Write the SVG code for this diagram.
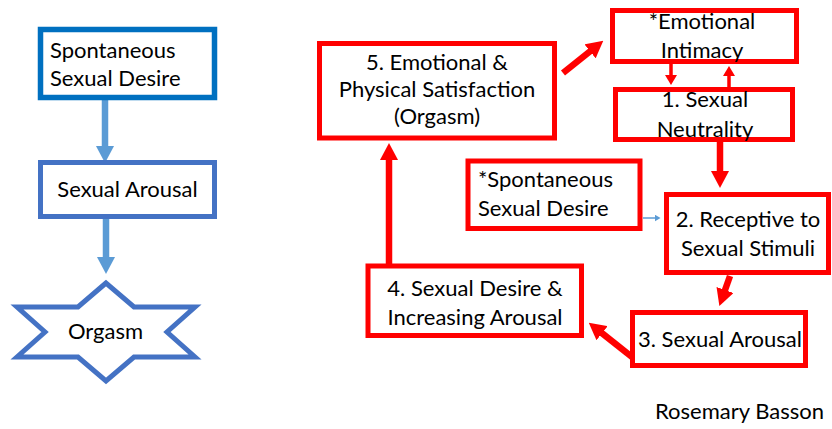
<svg xmlns="http://www.w3.org/2000/svg" width="832" height="429" viewBox="0 0 832 429">
<style>
text{font-family:Lato,"Open Sans","Liberation Sans",sans-serif;font-size:22px;fill:#000}
.c{text-anchor:middle}
.rb{fill:#fff;stroke:#ff0000;stroke-width:5}
.ra{stroke:#ff0000;stroke-width:6.5;fill:none}
.rs{stroke:#ff0000;stroke-width:3.5;fill:none}
.ba{stroke:#5b9bd5;stroke-width:6.5;fill:none}
.bt{stroke:#5b9bd5;stroke-width:1.5;fill:none}
</style>
<defs>
<marker id="mr" viewBox="0 0 17 18" markerUnits="userSpaceOnUse" markerWidth="17" markerHeight="18" refX="1" refY="9" orient="auto"><path d="M0,0L17,9L0,18z" fill="#ff0000"/></marker>
<marker id="mrs" viewBox="0 0 10 12" markerUnits="userSpaceOnUse" markerWidth="10" markerHeight="12" refX="1" refY="6" orient="auto"><path d="M0,0L10,6L0,12z" fill="#ff0000"/></marker>
<marker id="mb" viewBox="0 0 17 18" markerUnits="userSpaceOnUse" markerWidth="17" markerHeight="18" refX="1" refY="9" orient="auto"><path d="M0,0L17,9L0,18z" fill="#5b9bd5"/></marker>
<marker id="mbs" viewBox="0 0 6 7" markerUnits="userSpaceOnUse" markerWidth="6" markerHeight="7" refX="0.5" refY="3.5" orient="auto"><path d="M0,0L6,3.5L0,7z" fill="#5b9bd5"/></marker>
</defs>
<g id="connectors">
<line class="ba" x1="105" y1="100" x2="105" y2="147" marker-end="url(#mb)"/>
<line class="ba" x1="106" y1="219" x2="106" y2="258" marker-end="url(#mb)"/>
<line class="ra" x1="563" y1="73" x2="590.8" y2="50.7" marker-end="url(#mr)"/>
<line class="rs" x1="671" y1="64" x2="671" y2="76" marker-end="url(#mrs)"/>
<line class="rs" x1="729" y1="87" x2="729" y2="75" marker-end="url(#mrs)"/>
<line class="ra" x1="720" y1="142" x2="720" y2="172" marker-end="url(#mr)"/>
<line class="bt" x1="643" y1="218" x2="655" y2="218" marker-end="url(#mbs)"/>
<line class="ra" x1="730" y1="276" x2="724.7" y2="291" marker-end="url(#mr)"/>
<line class="ra" x1="632" y1="357" x2="601.3" y2="332.6" marker-end="url(#mr)"/>
<line class="ra" x1="389" y1="264" x2="389" y2="159" marker-end="url(#mr)"/>
</g>
<g id="spontaneous">
<rect x="40.5" y="29.5" width="174" height="68" fill="#fff" stroke="#0070c0" stroke-width="5.5"/>
<text x="50" y="58">Spontaneous</text>
<text x="50" y="86">Sexual Desire</text>
</g>
<g id="arousal">
<rect x="40.5" y="162.5" width="174" height="54" fill="#fff" stroke="#4472c4" stroke-width="5"/>
<text class="c" x="127.5" y="197">Sexual Arousal</text>
</g>
<g id="orgasm">
<polygon points="106,283 78,307 17,307 45,332 17,357 78,357 106,381 134,357 195,357 167,332 195,307 134,307" fill="#fff" stroke="#4472c4" stroke-width="5"/>
<text class="c" x="105.5" y="339">Orgasm</text>
</g>
<g id="intimacy">
<rect class="rb" x="612.5" y="10.5" width="184" height="51"/>
<text class="c" x="702" y="29">*Emotional</text>
<text class="c" x="702" y="58">Intimacy</text>
</g>
<g id="satisfaction">
<rect class="rb" x="319.5" y="43.5" width="235" height="94.5"/>
<text class="c" x="437" y="70">5. Emotional &amp;</text>
<text class="c" x="437" y="97">Physical Satisfaction</text>
<text class="c" x="437" y="124">(Orgasm)</text>
</g>
<g id="neutrality">
<rect class="rb" x="615.5" y="89.5" width="177" height="50"/>
<text class="c" x="705" y="107">1. Sexual</text>
<text class="c" x="705" y="137">Neutrality</text>
</g>
<g id="spont-desire">
<rect class="rb" x="468" y="161" width="172" height="67.5"/>
<text x="478" y="187">*Spontaneous</text>
<text x="478" y="216">Sexual Desire</text>
</g>
<g id="receptive">
<rect class="rb" x="666.5" y="194.5" width="162" height="78"/>
<text class="c" x="748" y="227">2. Receptive to</text>
<text class="c" x="748" y="256">Sexual Stimuli</text>
</g>
<g id="sexual-arousal">
<rect class="rb" x="632.5" y="312.5" width="173" height="53"/>
<text class="c" x="720" y="347">3. Sexual Arousal</text>
</g>
<g id="desire">
<rect class="rb" x="368" y="266" width="213.5" height="69.5"/>
<text class="c" x="475" y="296">4. Sexual Desire &amp;</text>
<text class="c" x="475" y="325">Increasing Arousal</text>
</g>
<text x="655" y="419">Rosemary Basson</text>
</svg>
